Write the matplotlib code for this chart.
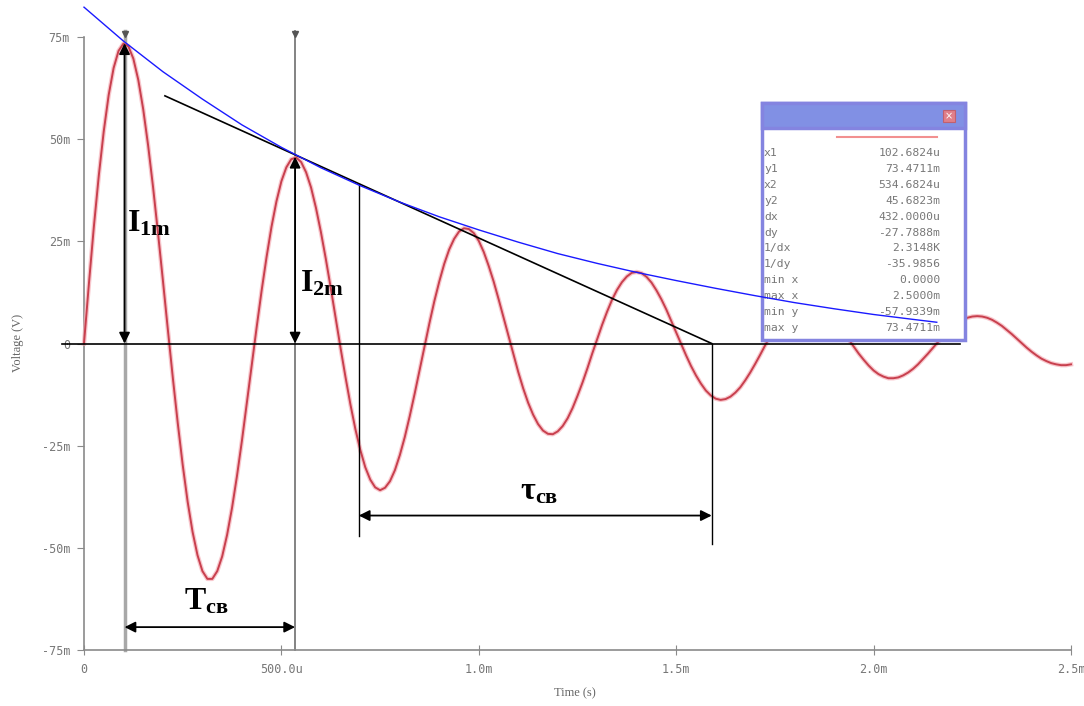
import numpy as np
import matplotlib
matplotlib.use('Agg')
import matplotlib.pyplot as plt
from matplotlib.patches import Rectangle

plt.rcParams['mathtext.fontset'] = 'custom'
plt.rcParams['mathtext.rm'] = 'Liberation Serif'
plt.rcParams['mathtext.bf'] = 'Liberation Serif:bold'
plt.rcParams['mathtext.it'] = 'Liberation Serif:italic'

# red trace: voltage (mV) read every 12.5 us from 0 to 2.5 ms
t_step = 0.0125
volt = [0.0, 14.7, 28.6, 41.1, 51.9, 60.8, 67.4, 71.6, 73.4, 72.7,
        69.7, 64.5, 57.3, 48.4, 38.2, 27.0, 15.3, 3.3, -8.4, -19.5,
        -29.7, -38.7, -46.1, -51.8, -55.7, -57.6, -57.6, -55.7, -52.1, -46.8,
        -40.2, -32.4, -23.8, -14.6, -5.2, 4.1, 13.0, 21.2, 28.6, 34.8,
        39.7, 43.1, 45.1, 45.5, 44.4, 41.9, 38.2, 33.2, 27.3, 20.7,
        13.6, 6.2, -1.2, -8.3, -15.0, -21.0, -26.1, -30.3, -33.3, -35.2,
        -35.9, -35.3, -33.7, -31.0, -27.3, -22.9, -17.8, -12.3, -6.5, -0.7,
        5.0, 10.4, 15.2, 19.5, 23.0, 25.6, 27.4, 28.2, 28.0, 27.0,
        25.1, 22.4, 19.0, 15.2, 10.9, 6.4, 1.8, -2.7, -7.0, -11.0,
        -14.5, -17.4, -19.7, -21.3, -22.1, -22.2, -21.5, -20.2, -18.3, -15.8,
        -12.8, -9.6, -6.1, -2.4, 1.1, 4.6, 7.8, 10.7, 13.1, 15.0,
        16.4, 17.3, 17.5, 17.2, 16.3, 14.9, 13.0, 10.8, 8.3, 5.5,
        2.7, -0.1, -2.9, -5.5, -7.8, -9.8, -11.5, -12.7, -13.5, -13.8,
        -13.6, -13.0, -12.0, -10.7, -9.0, -7.1, -5.0, -2.8, -0.5, 1.7,
        3.7, 5.6, 7.3, 8.7, 9.8, 10.5, 10.8, 10.8, 10.4, 9.7,
        8.7, 7.5, 6.0, 4.4, 2.7, 0.9, -0.8, -2.5, -4.0, -5.4,
        -6.6, -7.5, -8.1, -8.5, -8.5, -8.3, -7.8, -7.1, -6.2, -5.1,
        -3.8, -2.5, -1.1, 0.3, 1.6, 2.9, 4.0, 4.9, 5.7, 6.3,
        6.6, 6.7, 6.6, 6.3, 5.8, 5.1, 4.3, 3.3, 2.3, 1.2,
        0.1, -1.0, -2.0, -2.9, -3.7, -4.3, -4.8, -5.1, -5.3, -5.3,
        -5.1]
t_ms = np.arange(len(volt)) * t_step

# blue envelope
env_t = [0.0, 0.1, 0.2, 0.3, 0.4, 0.5, 0.6, 0.7, 0.8, 0.9, 1.0, 1.1,
         1.2, 1.3, 1.4, 1.5, 1.6, 1.7, 1.8, 1.9, 2.0, 2.1, 2.16]
env_v = [82.3, 74.0, 66.5, 59.8, 53.5, 48.0, 43.0, 38.6, 34.6, 31.0, 27.8, 24.8,
         22.0, 19.6, 17.4, 15.4, 13.5, 11.7, 10.0, 8.5, 7.1, 5.9, 5.2]

# cursors
x1, y1 = 0.1026824, 73.4711
x2, y2 = 0.5346824, 45.6823

# tangent line and construction lines
tan_t = [0.205, 1.590]
tan_v = [60.6, 0.0]
zero_t = [-0.056, 2.218]
tau_left, tau_right = 0.696, 1.590

yticks = [-75, -50, -25, 0, 25, 50, 75]
ytick_labels = ['-75m', '-50m', '-25m', '0', '25m', '50m', '75m']
xticks = [0, 0.5, 1.0, 1.5, 2.0, 2.5]
xtick_labels = ['0', '500.0u', '1.0m', '1.5m', '2.0m', '2.5m']

panel_names = ['x1', 'y1', 'x2', 'y2', 'dx', 'dy', '1/dx', '1/dy',
               'min x', 'max x', 'min y', 'max y']
panel_values = ['102.6824u', '73.4711m', '534.6824u', '45.6823m', '432.0000u',
                '-27.7888m', '2.3148K', '-35.9856', '0.0000', '2.5000m',
                '-57.9339m', '73.4711m']

W, H = 1084, 706
fig = plt.figure(figsize=(W / 100, H / 100), dpi=100)
ax = fig.add_axes([84 / W, 56 / H, (1071 - 84) / W, (650 - 37) / H])
ax.set_xlim(0, 2.5)
ax.set_ylim(-75, 75)
for s in ['top', 'right']:
    ax.spines[s].set_visible(False)
for s in ['left', 'bottom']:
    ax.spines[s].set_color('#8a8a8a')
    ax.spines[s].set_linewidth(1.2)
ax.set_yticks(yticks)
ax.set_yticklabels(ytick_labels)
ax.set_xticks(xticks)
ax.set_xticklabels(xtick_labels)
ax.tick_params(axis='y', direction='out', length=5, color='#8a8a8a', pad=5,
               labelsize=8.5, labelcolor='#777777')
ax.tick_params(axis='x', direction='inout', length=7, color='#8a8a8a', pad=6,
               labelsize=8.5, labelcolor='#777777')
for lab in ax.get_xticklabels() + ax.get_yticklabels():
    lab.set_family('DejaVu Sans Mono')

fig.text(18 / W, 1 - 343 / H, 'Voltage (V)', rotation=90, ha='center', va='center',
         family='Liberation Serif', fontsize=9, color='#666666')
fig.text(575 / W, 1 - 693 / H, 'Time (s)', ha='center', va='center',
         family='Liberation Serif', fontsize=9, color='#666666')

# cursor lines
ax.plot([x1, x1], [-75, 76.5], color='#a8a8a8', lw=2.5, clip_on=False, zorder=2)
ax.plot([x2, x2], [-75, 76.5], color='#7a7a7a', lw=1.3, clip_on=False, zorder=2)
ax.plot([x1, x2], [75.8, 75.8], ls='none', marker='v', ms=4, color='#555555',
        clip_on=False, zorder=2)

# red trace
ax.plot(t_ms, volt, color='#f6b0b8', lw=3.2, clip_on=False, zorder=3, alpha=0.7)
ax.plot(t_ms, volt, color='#c8404e', lw=1.4, clip_on=False, zorder=3)

# construction lines
ax.plot(zero_t, [0, 0], color='black', lw=1.2, clip_on=False, zorder=4)
ax.plot(tan_t, tan_v, color='black', lw=1.2, zorder=4)
tan_at_left = tan_v[0] + (tan_v[1] - tan_v[0]) * (tau_left - tan_t[0]) / (tan_t[1] - tan_t[0])
ax.plot([tau_left, tau_left], [tan_at_left, -47.0], color='black', lw=1.0, zorder=4)
ax.plot([tau_right, tau_right], [0, -49.0], color='black', lw=1.0, zorder=4)

arrow = dict(arrowstyle='<|-|>', color='black', lw=1.3, mutation_scale=16,
             shrinkA=0, shrinkB=0)
ax.annotate('', xy=(x1, y1), xytext=(x1, 0), arrowprops=arrow, zorder=5)
ax.annotate('', xy=(x2, y2), xytext=(x2, 0), arrowprops=arrow, zorder=5)
ax.annotate('', xy=(tau_right, -42.1), xytext=(tau_left, -42.1), arrowprops=arrow, zorder=5)
ax.annotate('', xy=(x2, -69.4), xytext=(x1, -69.4), arrowprops=arrow, zorder=5)

ax.text(0.108, 29.6, r'$\mathbf{I_{1m}}$', fontsize=23, ha='left', va='center', zorder=6)
ax.text(0.546, 14.9, r'$\mathbf{I_{2m}}$', fontsize=23, ha='left', va='center', zorder=6)
ax.text(1.154, -36.0, r'$\mathbf{τ_{св}}$', fontsize=23, ha='center', va='center', zorder=6)
ax.text(0.309, -63.0, r'$\mathbf{T_{св}}$', fontsize=23, ha='center', va='center', zorder=6)


# measurement window (pixel coordinates -> figure coordinates)
def fxy(px, py):
    return px / W, 1 - py / H


tf = fig.transFigure
pl, pr, pt, pb = 762, 965, 103, 340
ax.add_patch(Rectangle(fxy(pl, pb), (pr - pl) / W, (pb - pt) / H, transform=tf,
                       facecolor='white', edgecolor='#8484e0', lw=2.5,
                       clip_on=False, zorder=7))
ax.add_patch(Rectangle(fxy(pl, 128), (pr - pl) / W, (128 - pt) / H, transform=tf,
                       facecolor='#8190e4', edgecolor='#8484e0', lw=2.5,
                       clip_on=False, zorder=7))
ax.add_patch(Rectangle(fxy(943, 122), 12 / W, 12 / H, transform=tf,
                       facecolor='#e07f8a', edgecolor='#c06070', lw=0.8,
                       clip_on=False, zorder=8))
ax.text(*fxy(949, 116), '×', transform=tf, color='white', fontsize=7,
        ha='center', va='center', zorder=9)
ax.plot([837 / W, 937 / W], [1 - 137 / H] * 2, transform=tf, color='#f29090',
        lw=1.5, clip_on=False, zorder=8)
for i, (name, val) in enumerate(zip(panel_names, panel_values)):
    ry = 153 + i * 15.9
    ax.text(*fxy(764, ry), name, transform=tf, family='DejaVu Sans Mono',
            fontsize=8.2, color='#777777', ha='left', va='center', zorder=8)
    ax.text(*fxy(940, ry), val, transform=tf, family='DejaVu Sans Mono',
            fontsize=8.2, color='#777777', ha='right', va='center', zorder=8)

# blue envelope on top of the window
ax.plot(env_t, env_v, color='#1a1aff', lw=1.0, clip_on=False, zorder=10)

fig.savefig('out.png', dpi=100, facecolor='white')
